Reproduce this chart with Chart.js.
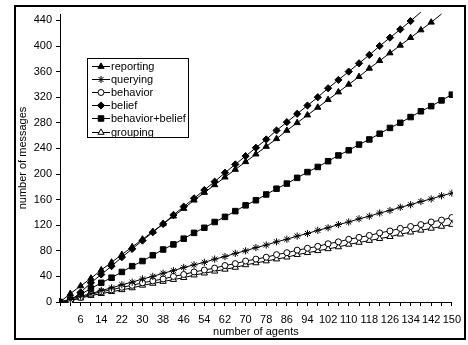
<!DOCTYPE html>
<html><head><meta charset="utf-8">
<script src="https://cdn.jsdelivr.net/npm/chart.js@4/dist/chart.umd.min.js"></script>
<style>html,body{margin:0;padding:0;background:#fff}</style>
</head><body>
<canvas id="c" width="468" height="345"></canvas>
<script>
const categories = [0,2,6,10,14,18,22,26,30,34,38,42,46,50,54,58,62,66,70,74,78,82,86,90,94,98,102,106,110,114,118,122,126,130,134,138,142,146,150];
const seriesNames = ['reporting','querying','behavior','belief','behavior+belief','grouping'];
const reporting = [0,13,25,37,50,62,74,86,98,110,122,134,146,159,171,183,195,207,219,231,243,255,268,280,292,304,316,328,340,352,365,377,389,401,413,425,437,450,null];
const querying = [0,4,9,13,18,22,27,31,36,40,45,49,54,58,62,67,71,76,80,85,89,94,98,103,107,112,116,121,125,130,134,139,143,148,152,157,161,166,170];
const behavior = [0,2,7,12,16,19,23,26,30,33,36,40,43,47,50,53,57,60,64,67,70,74,77,81,84,87,91,94,98,101,104,108,111,115,118,121,125,128,132];
const belief = [0,2,15,30,43,56,70,83,96,109,122,136,149,162,175,188,202,215,228,241,254,268,281,294,307,320,334,347,360,373,386,400,413,426,439,453,null,null,null];
const behaviorBelief = [0,4,12,21,30,38,47,56,64,73,82,90,99,108,116,125,133,142,151,159,168,177,185,194,203,211,220,229,237,246,254,263,272,280,289,298,306,315,324];
const grouping = [0,2,6,10,13,16,19,22,26,29,32,35,38,42,45,48,51,54,58,61,64,67,70,74,77,80,83,86,90,93,96,99,102,106,109,112,115,118,121];
const yTicks = [0,40,80,120,160,200,240,280,320,360,400,440];

const FONT = '"Liberation Sans", Arial, sans-serif';
const styles = [
  {pointStyle:'triangle', fill:'#000', r:3.6},
  {pointStyle:'star', fill:'#000', r:3.6},
  {pointStyle:'circle', fill:'#fff', r:3},
  {pointStyle:'rectRot', fill:'#000', r:3.6},
  {pointStyle:'rect', fill:'#000', r:3.9},
  {pointStyle:'triangle', fill:'#fff', r:3.6}
];
const seriesData = [reporting, querying, behavior, belief, behaviorBelief, grouping];
const datasets = seriesData.map((d, i) => {
  const s = styles[i];
  const rad = c => (c.raw == null || c.raw > 440) ? 0 : s.r;
  return {
    label: seriesNames[i], data: d,
    borderColor:'#000', borderWidth:1, tension:0,
    clip:{left:1, top:3, right:1, bottom:1},
    pointStyle:s.pointStyle, pointBackgroundColor:s.fill, pointBorderColor:'#000', pointBorderWidth:1,
    pointRadius: rad, pointHoverRadius: rad, _r: s.r
  };
});

const framePlugin = {
  id:'frame',
  beforeDraw(chart){
    const ctx = chart.ctx; ctx.save(); ctx.fillStyle='#fff'; ctx.fillRect(0,0,chart.width,chart.height); ctx.restore();
  },
  afterDraw(chart){
    const ctx = chart.ctx;
    ctx.save();
    // legend box
    const x0 = 87, y0 = 58, w = 101, h = 79;
    ctx.fillStyle = '#fff'; ctx.fillRect(x0, y0, w, h);
    ctx.strokeStyle = '#000'; ctx.lineWidth = 1; ctx.strokeRect(x0 + 0.5, y0 + 0.5, w, h);
    ctx.font = '11px ' + FONT; ctx.textBaseline = 'middle'; ctx.textAlign = 'left';
    chart.data.datasets.forEach((ds, i) => {
      const cy = Math.round(66 + i * 13.1) + 0.5;
      ctx.strokeStyle = '#000'; ctx.lineWidth = 1;
      ctx.beginPath(); ctx.moveTo(92, cy); ctx.lineTo(110, cy); ctx.stroke();
      ctx.fillStyle = ds.pointBackgroundColor;
      Chart.helpers.drawPoint(ctx, {pointStyle: ds.pointStyle, rotation: 0, radius: ds._r, borderWidth: 1}, 101, cy);
      ctx.fillStyle = '#000';
      ctx.fillText(ds.label, 111, cy + 0.5);
    });
    // outer frame
    ctx.strokeStyle = '#000'; ctx.lineWidth = 2;
    ctx.strokeRect(15, 6, 450, 333);
    ctx.restore();
  }
};

new Chart(document.getElementById('c'), {
  type:'line',
  data:{ labels: categories, datasets },
  options:{
    responsive:false, animation:false, devicePixelRatio:1,
    layout:{ padding:{ left:12, top:14, right:15, bottom:3 } },
    plugins:{ legend:{display:false}, tooltip:{enabled:false} },
    scales:{
      x:{
        type:'category', offset:false,
        grid:{ drawOnChartArea:false, color:'#000', tickLength:4, lineWidth:1 },
        border:{ display:true, color:'#000', width:1 },
        ticks:{ autoSkip:false, maxRotation:0, minRotation:0, padding:7, color:'#000', font:{family:FONT, size:11},
          callback:(v, i) => (i >= 2 && i % 2 === 0) ? String(categories[i]) : '' },
        title:{ display:true, text:'number of agents', color:'#000', font:{family:FONT, size:11}, padding:{top:2, bottom:3} },
        afterFit: s => { s.height = 40; }
      },
      y:{
        min:0, max:450,
        afterBuildTicks: s => { s.ticks = yTicks.map(v => ({value:v})); },
        grid:{ drawOnChartArea:false, color:'#000', tickLength:4, lineWidth:1 },
        border:{ display:true, color:'#000', width:1 },
        ticks:{ padding:4, color:'#000', font:{family:FONT, size:11} },
        title:{ display:true, text:'number of messages', color:'#000', font:{family:FONT, size:11} },
        afterFit: s => { s.width = 48; }
      }
    }
  },
  plugins:[framePlugin]
});
</script>
</body></html>
